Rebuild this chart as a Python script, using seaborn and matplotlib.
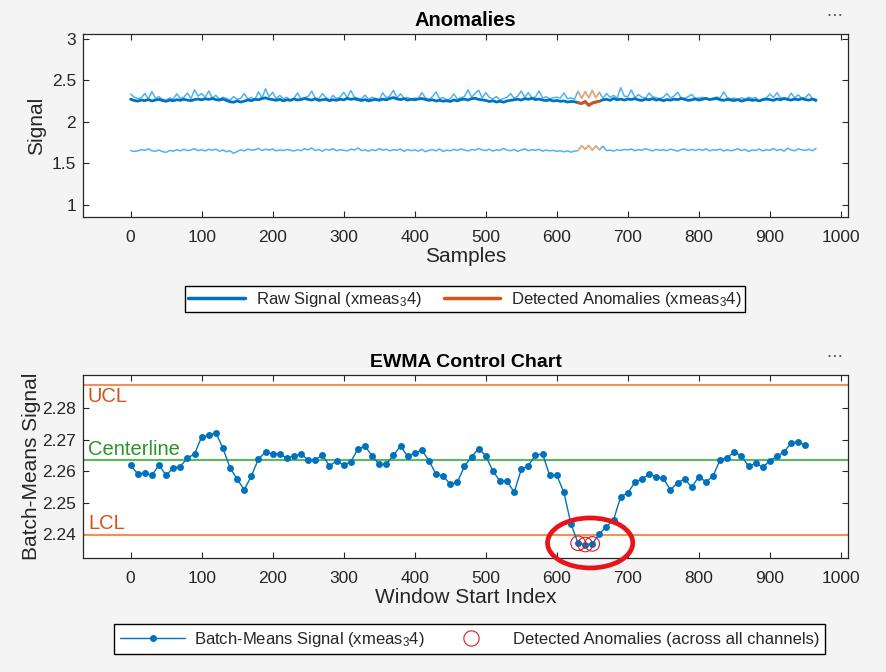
import numpy as np
import pandas as pd
import matplotlib
matplotlib.use("Agg")
import matplotlib.pyplot as plt
from matplotlib.lines import Line2D
from matplotlib.patches import Ellipse
from matplotlib.ticker import FuncFormatter
import seaborn as sns

# Top panel: raw signal (thousandths) sampled every 5 samples
samples = np.arange(0, 966, 5)
raw_signal = [
    2272, 2258, 2249, 2262, 2255, 2268, 2251, 2263, 2270, 2256,
    2248, 2261, 2254, 2266, 2259, 2271, 2262, 2255, 2268, 2274,
    2265, 2278, 2270, 2281, 2268, 2262, 2274, 2258, 2241, 2236,
    2252, 2238, 2249, 2263, 2255, 2271, 2266, 2280, 2289, 2274,
    2268, 2259, 2272, 2252, 2266, 2258, 2275, 2263, 2269, 2281,
    2270, 2262, 2276, 2258, 2266, 2271, 2255, 2267, 2260, 2273,
    2264, 2283, 2271, 2278, 2266, 2257, 2268, 2252, 2263, 2270,
    2259, 2274, 2265, 2281, 2292, 2276, 2268, 2279, 2262, 2271,
    2266, 2275, 2281, 2269, 2258, 2266, 2251, 2260, 2248, 2255,
    2245, 2263, 2252, 2268, 2274, 2262, 2279, 2284, 2270, 2265,
    2258, 2244, 2254, 2238, 2249, 2236, 2252, 2259, 2266, 2273,
    2262, 2280, 2271, 2284, 2268, 2275, 2262, 2256, 2265, 2251,
    2258, 2247, 2252, 2238, 2245, 2242, 2230, 2221, 2244, 2198,
    2226, 2238, 2248, 2265, 2272, 2259, 2281, 2266, 2274, 2262,
    2275, 2268, 2280, 2264, 2258, 2273, 2266, 2279, 2262, 2270,
    2255, 2268, 2261, 2274, 2266, 2281, 2270, 2259, 2265, 2276,
    2262, 2271, 2284, 2268, 2275, 2281, 2266, 2259, 2270, 2263,
    2256, 2268, 2249, 2262, 2270, 2258, 2264, 2252, 2266, 2274,
    2268, 2259, 2276, 2265, 2281, 2270, 2262, 2274, 2266, 2279,
    2268, 2261, 2274, 2262,
]
channel_hi = [
    2335, 2298, 2281, 2290, 2342, 2276, 2365, 2284, 2302, 2270,
    2258, 2288, 2275, 2336, 2282, 2296, 2347, 2279, 2385, 2310,
    2341, 2296, 2372, 2288, 2319, 2274, 2296, 2281, 2262, 2305,
    2272, 2283, 2340, 2276, 2294, 2268, 2361, 2285, 2398, 2302,
    2356, 2280, 2318, 2279, 2296, 2264, 2283, 2348, 2272, 2291,
    2306, 2371, 2284, 2278, 2339, 2292, 2262, 2318, 2280, 2298,
    2355, 2292, 2378, 2298, 2285, 2276, 2322, 2271, 2296, 2281,
    2268, 2349, 2289, 2312, 2380, 2291, 2337, 2283, 2294, 2271,
    2287, 2276, 2352, 2290, 2268, 2304, 2359, 2281, 2293, 2262,
    2279, 2335, 2276, 2290, 2305, 2386, 2296, 2342, 2381, 2288,
    2352, 2294, 2276, 2305, 2263, 2281, 2296, 2339, 2284, 2310,
    2372, 2295, 2351, 2289, 2298, 2373, 2286, 2302, 2278, 2290,
    2296, 2285, 2348, 2279, 2288, 2272, 2370, 2282, 2365, 2290,
    2378, 2291, 2356, 2283, 2341, 2296, 2318, 2287, 2412, 2310,
    2302, 2384, 2291, 2328, 2295, 2286, 2347, 2301, 2292, 2279,
    2296, 2341, 2288, 2310, 2357, 2290, 2283, 2302, 2331, 2279,
    2288, 2296, 2278, 2265, 2284, 2299, 2287, 2360, 2293, 2277,
    2286, 2264, 2290, 2272, 2296, 2283, 2294, 2248, 2279, 2288,
    2334, 2295, 2351, 2286, 2290, 2278, 2346, 2289, 2325, 2282,
    2294, 2336, 2278, 2241,
]
channel_lo = [
    1652, 1641, 1648, 1663, 1655, 1672, 1651, 1643, 1660, 1638,
    1631, 1654, 1645, 1662, 1649, 1668, 1652, 1659, 1675, 1651,
    1663, 1648, 1667, 1656, 1670, 1644, 1659, 1638, 1650, 1618,
    1642, 1661, 1648, 1670, 1656, 1662, 1679, 1653, 1668, 1658,
    1671, 1649, 1660, 1652, 1666, 1655, 1648, 1662, 1651, 1674,
    1660, 1684, 1652, 1666, 1644, 1668, 1657, 1675, 1650, 1663,
    1656, 1648, 1670, 1659, 1683, 1652, 1661, 1645, 1664, 1651,
    1676, 1658, 1667, 1649, 1662, 1656, 1671, 1643, 1665, 1652,
    1660, 1645, 1668, 1638, 1655, 1663, 1649, 1672, 1641, 1658,
    1650, 1666, 1654, 1671, 1659, 1648, 1664, 1657, 1676, 1660,
    1652, 1669, 1646, 1662, 1655, 1678, 1658, 1650, 1665, 1643,
    1660, 1672, 1651, 1663, 1656, 1668, 1645, 1659, 1649, 1655,
    1642, 1652, 1637, 1648, 1633, 1645, 1651, 1712, 1668, 1714,
    1656, 1709, 1661, 1705, 1652, 1658, 1646, 1662, 1653, 1667,
    1659, 1671, 1650, 1664, 1657, 1676, 1661, 1648, 1667, 1655,
    1662, 1651, 1669, 1658, 1645, 1663, 1672, 1652, 1666, 1654,
    1668, 1655, 1673, 1649, 1661, 1657, 1670, 1646, 1662, 1650,
    1658, 1675, 1653, 1666, 1641, 1660, 1652, 1671, 1648, 1663,
    1655, 1678, 1652, 1667, 1646, 1681, 1659, 1650, 1672, 1661,
    1654, 1668, 1650, 1679,
]
anomaly_start, anomaly_end = 630, 660

# Bottom panel: EWMA of batch means
window_start = np.arange(0, 951, 10)
batch_means = [
    2.2619, 2.2592, 2.2594, 2.2587, 2.2620, 2.2587, 2.2611, 2.2615, 2.2642, 2.2655,
    2.2709, 2.2714, 2.2723, 2.2673, 2.2611, 2.2575, 2.2541, 2.2585, 2.2639, 2.2661,
    2.2655, 2.2655, 2.2642, 2.2649, 2.2655, 2.2636, 2.2636, 2.2652, 2.2617, 2.2633,
    2.2620, 2.2630, 2.2671, 2.2680, 2.2649, 2.2622, 2.2622, 2.2651, 2.2680, 2.2648,
    2.2658, 2.2667, 2.2634, 2.2590, 2.2585, 2.2559, 2.2565, 2.2616, 2.2646, 2.2672,
    2.2649, 2.2601, 2.2569, 2.2569, 2.2533, 2.2606, 2.2618, 2.2651, 2.2655, 2.2587,
    2.2587, 2.2533, 2.2432, 2.2371, 2.2367, 2.2369, 2.2401, 2.2424, 2.2446, 2.2519,
    2.2531, 2.2565, 2.2576, 2.2590, 2.2583, 2.2577, 2.2541, 2.2563, 2.2576, 2.2549,
    2.2583, 2.2566, 2.2585, 2.2636, 2.2643, 2.2661, 2.2649, 2.2616, 2.2625, 2.2613,
    2.2633, 2.2647, 2.2662, 2.2690, 2.2693, 2.2683,
]
anomaly_windows = [630, 640, 650]
ucl, centerline, lcl = 2.2873, 2.2636, 2.2398

blue = "#0072BD"
light_blue = "#4DB2F5"
orange = "#D95319"
light_orange = "#F8A86A"
axis_col = "#262626"

sns.set_theme(style="white")
plt.rcParams["font.family"] = ["Liberation Sans", "DejaVu Sans"]
plt.rcParams["mathtext.default"] = "regular"

fig = plt.figure(figsize=(8.86, 6.72), dpi=100, facecolor="#f4f4f4")
ax1 = fig.add_axes([0.0937, 0.6771, 0.8634, 0.2723])
ax2 = fig.add_axes([0.0937, 0.1696, 0.8634, 0.2723])

top = pd.DataFrame({
    "Samples": samples,
    "raw": np.array(raw_signal) / 1000,
    "hi": np.array(channel_hi) / 1000,
    "lo": np.array(channel_lo) / 1000,
})
anom = top[(top["Samples"] >= anomaly_start) & (top["Samples"] <= anomaly_end)]

sns.lineplot(data=top, x="Samples", y="hi", color=light_blue, lw=1.1, ax=ax1, legend=False)
sns.lineplot(data=top, x="Samples", y="lo", color=light_blue, lw=1.1, ax=ax1, legend=False)
sns.lineplot(data=top, x="Samples", y="raw", color=blue, lw=2, ax=ax1, legend=False)
sns.lineplot(data=anom, x="Samples", y="hi", color=light_orange, lw=1.1, ax=ax1, legend=False)
sns.lineplot(data=anom, x="Samples", y="lo", color=light_orange, lw=1.1, ax=ax1, legend=False)
sns.lineplot(data=anom, x="Samples", y="raw", color=orange, lw=2, ax=ax1, legend=False)

ax1.set_xlim(-67, 1010)
ax1.set_ylim(0.85, 3.06)
ax1.set_xticks(np.arange(0, 1001, 100))
ax1.set_yticks([1, 1.5, 2, 2.5, 3])
ax1.yaxis.set_major_formatter(FuncFormatter(lambda v, p: f"{v:g}"))
ax1.set_title("Anomalies", fontsize=14.5, fontweight="bold", color="black", pad=6)
ax1.set_xlabel("Samples", fontsize=15, color=axis_col, labelpad=1)
ax1.set_ylabel("Signal", fontsize=15, color=axis_col, labelpad=4)

# EWMA chart
ewma = pd.DataFrame({"Window Start Index": window_start, "Batch-Means Signal": batch_means})
flagged = ewma[ewma["Window Start Index"].isin(anomaly_windows)]

for val, col in [(ucl, "#F0905A"), (lcl, "#F0905A"), (centerline, "#5CB85C")]:
    ax2.axhline(val, color=col, lw=1.5, zorder=1)
sns.lineplot(data=ewma, x="Window Start Index", y="Batch-Means Signal", color=blue, lw=1,
             marker="o", markersize=5, markeredgewidth=0, ax=ax2, legend=False, zorder=3)
sns.scatterplot(data=flagged, x="Window Start Index", y="Batch-Means Signal", s=110,
                facecolor="none", edgecolor="#D61F1F", linewidth=0.8, ax=ax2, legend=False, zorder=4)
ax2.add_patch(Ellipse((647, 2.2372), width=120, height=0.0159, fill=False,
                      edgecolor="#E8141A", lw=3.4, clip_on=False, zorder=6))

ax2.text(-60, ucl - 0.0006, "UCL", color=orange, fontsize=14.5, va="top", ha="left")
ax2.text(-60, centerline + 0.0003, "Centerline", color="#2A942A", fontsize=14.5, va="bottom", ha="left")
ax2.text(-60, lcl + 0.0005, "LCL", color=orange, fontsize=14.5, va="bottom", ha="left")

ax2.set_xlim(-67, 1010)
ax2.set_ylim(2.2324, 2.2906)
ax2.set_xticks(np.arange(0, 1001, 100))
ax2.set_yticks([2.24, 2.25, 2.26, 2.27, 2.28])
ax2.set_title("EWMA Control Chart", fontsize=14, fontweight="bold", color="black", pad=6)
ax2.set_xlabel("Window Start Index", fontsize=15, color=axis_col, labelpad=1)
ax2.set_ylabel("Batch-Means Signal", fontsize=15, color=axis_col, labelpad=1)

for ax in (ax1, ax2):
    ax.set_facecolor("white")
    ax.tick_params(direction="in", top=True, right=True, bottom=True, left=True,
                   length=4, width=0.8, color=axis_col, labelsize=12.5, labelcolor=axis_col)
    ax.tick_params(axis="x", pad=9.5)
    ax.tick_params(axis="y", pad=5)
    for sp in ax.spines.values():
        sp.set_color(axis_col)
        sp.set_linewidth(0.9)

# Legends
h1 = [Line2D([], [], color=blue, lw=2.5), Line2D([], [], color=orange, lw=2.5)]
fig.legend(h1, ["Raw Signal (xmeas$_3$4)", "Detected Anomalies (xmeas$_3$4)"],
           loc="center", bbox_to_anchor=(0.525, 0.555), ncol=2, fontsize=12,
           frameon=True, fancybox=False, edgecolor="black", framealpha=1,
           handlelength=3.4, handletextpad=0.65, columnspacing=1.3, borderpad=0.2)
h2 = [Line2D([], [], color=blue, lw=1, marker="o", markersize=4),
      Line2D([], [], color="#D61F1F", ls="none", marker="o", markersize=11,
             markerfacecolor="none", markeredgewidth=0.8)]
fig.legend(h2, ["Batch-Means Signal (xmeas$_3$4)", "Detected Anomalies (across all channels)"],
           loc="center", bbox_to_anchor=(0.53, 0.049), ncol=2, fontsize=12,
           frameon=True, fancybox=False, edgecolor="black", framealpha=1,
           handlelength=3.9, handletextpad=0.55, columnspacing=0.8, borderpad=0.35)

fig.text(0.942, 0.977, "• • •", color="#555555", fontsize=6, ha="center", va="center")
fig.text(0.942, 0.469, "• • •", color="#555555", fontsize=6, ha="center", va="center")

fig.savefig("out.png", dpi=100, facecolor=fig.get_facecolor())
